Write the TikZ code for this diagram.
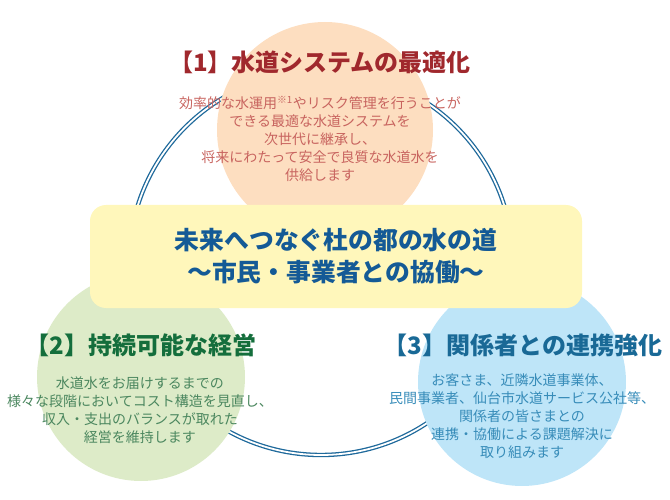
\documentclass[tikz,border=0pt]{standalone}
\usepackage{fontspec}
\setmainfont{Noto Sans CJK JP}
\usetikzlibrary{positioning}
\definecolor{ringblue}{RGB}{30,105,155}
\definecolor{peach}{RGB}{253,222,192}
\definecolor{sage}{RGB}{221,235,200}
\definecolor{sky}{RGB}{190,229,248}
\definecolor{cream}{RGB}{255,247,187}
\definecolor{redhead}{RGB}{160,40,45}
\definecolor{redtext}{RGB}{200,100,95}
\definecolor{greenhead}{RGB}{20,110,60}
\definecolor{greentext}{RGB}{75,135,95}
\definecolor{bluehead}{RGB}{25,105,150}
\definecolor{bluetext}{RGB}{55,140,185}
\definecolor{mottoblue}{RGB}{20,90,150}

\begin{document}
\begin{tikzpicture}[x=1pt, y=-1pt,
  bubble/.style={circle, inner sep=0pt},
  head/.style={inner sep=0pt, font=\fontsize{24}{28}\selectfont\bfseries},
  body/.style={inner sep=0pt, align=center, font=\fontsize{14}{18}\selectfont}]
  \useasboundingbox (0,0) rectangle (670,500);
  % outer ring
  \node[circle, draw=ringblue, double=white, double distance=1.8pt, line width=1.3pt,
        minimum size=384pt] (ring) at (321,263) {};
  % three circles
  \node[bubble, fill=peach, minimum size=216pt] (opt) at (325,130) {};
  \node[bubble, fill=sage, minimum size=208pt] (mgmt) at (141,377) {};
  \node[bubble, fill=sky, minimum size=208pt] (link) at (522,382) {};
  % motto box
  \node[fill=cream, rounded corners=16pt, minimum width=492pt, minimum height=103pt,
        align=center, text=mottoblue, font=\fontsize{24.8}{32}\selectfont\bfseries]
        (motto) at (336,256.5) {未来へつなぐ杜の都の水の道\\～市民・事業者との協働～};
  % headings
  \node[head, text=redhead] (opthead) at (320,62) {【1】水道システムの最適化};
  \node[head, text=greenhead] (mgmthead) at (141,345) {【2】持続可能な経営};
  \node[head, text=bluehead] (linkhead) at (523,345) {【3】関係者との連携強化};
  % texts
  \node[body, text=redtext] (opttext) at (320,139)
    {効率的な水運用\textsuperscript{※1}やリスク管理を行うことが\\できる最適な水道システムを\\次世代に継承し、\\将来にわたって安全で良質な水道水を\\供給します};
  \node[body, text=greentext] (mgmttext) at (140,410)
    {水道水をお届けするまでの\\様々な段階においてコスト構造を見直し、\\収入・支出のバランスが取れた\\経営を維持します};
  \node[body, text=bluetext] (linktext) at (522,416.5)
    {お客さま、近隣水道事業体、\\民間事業者、仙台市水道サービス公社等、\\関係者の皆さまとの\\連携・協働による課題解決に\\取り組みます};
\end{tikzpicture}
\end{document}
